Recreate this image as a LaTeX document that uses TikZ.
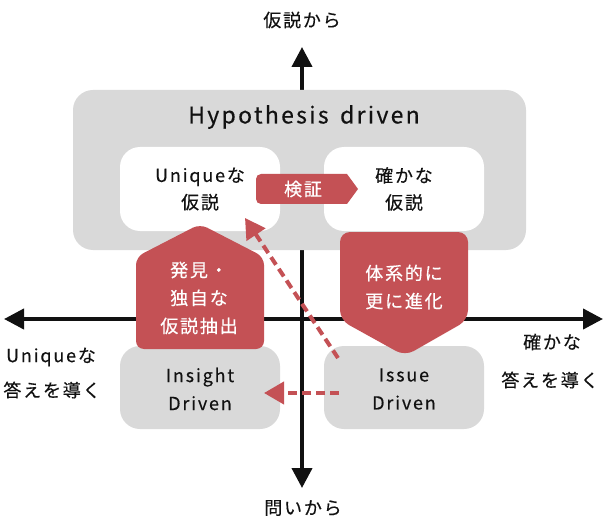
\documentclass[tikz,border=0pt]{standalone}
\usepackage{fontspec}
\setmainfont{Noto Sans CJK JP}
\newfontfamily\jpsp[LetterSpace=10,FakeBold=0.35]{Noto Sans CJK JP}
\usetikzlibrary{arrows.meta}
\definecolor{boxgray}{HTML}{D9D9D9}
\definecolor{accred}{HTML}{C45155}
\definecolor{ink}{HTML}{111111}
\tikzset{
  axisline/.style={line width=4pt,ink,-{Triangle[width=20pt,length=20pt]}},
  graybox/.style={fill=boxgray,rounded corners=20pt},
  whitebox/.style={fill=white,rounded corners=20pt},
  redshape/.style={fill=accred,draw=none},
  dasharrow/.style={accred,line width=4pt,dash pattern=on 9pt off 5pt,-{Triangle[width=22pt,length=20pt]}},
  lbl/.style={text=ink,align=center,inner sep=0pt,font=\jpsp\fontsize{18}{27}\selectfont},
  wlbl/.style={text=white,align=center,inner sep=0pt,font=\jpsp\fontsize{18}{28}\selectfont},
}
\begin{document}
\begin{tikzpicture}[x=1pt,y=-1pt]
\useasboundingbox (0,0) rectangle (604,529);
% axes
\coordinate (vtop) at (302,47);
\coordinate (vbot) at (302,488);
\coordinate (hleft) at (4,319);
\coordinate (hright) at (603,319);
\coordinate (ctr) at (302,319);
\draw[axisline] (ctr) -- (vtop);
\draw[axisline] (ctr) -- (vbot);
\draw[axisline] (ctr) -- (hleft);
\draw[axisline] (ctr) -- (hright);
% axis labels
\node[lbl] (ltop) at (302,20) {仮説から};
\node[lbl] (lbot) at (303,508) {問いから};
\node[lbl] (lleft1) at (51,357) {Uniqueな};
\node[lbl] (lleft2) at (52,390) {答えを導く};
\node[lbl] (lright1) at (552,342) {確かな};
\node[lbl] (lright2) at (550,380) {答えを導く};
% big box
\fill[graybox] (73,90) rectangle (526,250);
\node[lbl,font=\jpsp\fontsize{23}{28}\selectfont] (hyp) at (304,117) {Hypothesis\hspace{4pt} driven};
\fill[whitebox] (120,147) rectangle (280,231);
\fill[whitebox] (324,147) rectangle (484,231);
\node[lbl] (uniq) at (200,189) {Uniqueな\\仮説};
\node[lbl] (conf) at (404,189) {確かな\\仮説};
% lower boxes
\fill[graybox] (120,346) rectangle (280,429);
\fill[graybox] (324,346) rectangle (484,429);
\node[lbl,font=\jpsp\fontsize{18}{28}\selectfont] (insight) at (200,389) {Insight\\Driven};
\node[lbl,font=\jpsp\fontsize{18}{28}\selectfont] (issue) at (404,389) {Issue\\Driven};
% verify arrow
\fill[redshape] (300,174) -- (347,174) -- (358,189) -- (347,204) -- (300,204)
  [rounded corners=5pt] -- (256,204) -- (256,174) [sharp corners] -- cycle;
\node[wlbl] (verify) at (303,189) {検証};
% left house
\fill[redshape,rounded corners=8pt] (200,224) -- (264,257) -- (264,349) -- (136,349) -- (136,257) -- cycle;
\node[wlbl] (disc) at (199,298) {発見・\\独自な\\仮説抽出};
% right pentagon
\fill[redshape,rounded corners=10pt] (340,232) -- (468,232) -- (468,320) -- (405,356) -- (340,320) -- cycle;
\node[wlbl] (evol) at (404,287) {体系的に\\更に進化};
% dashed arrows
\coordinate (d1s) at (338,358);
\coordinate (d1e) at (245,218);
\coordinate (d2s) at (339,393);
\coordinate (d2e) at (264,393);
\draw[dasharrow] (d1s) -- (d1e);
\draw[dasharrow] (d2s) -- (d2e);
\end{tikzpicture}
\end{document}
